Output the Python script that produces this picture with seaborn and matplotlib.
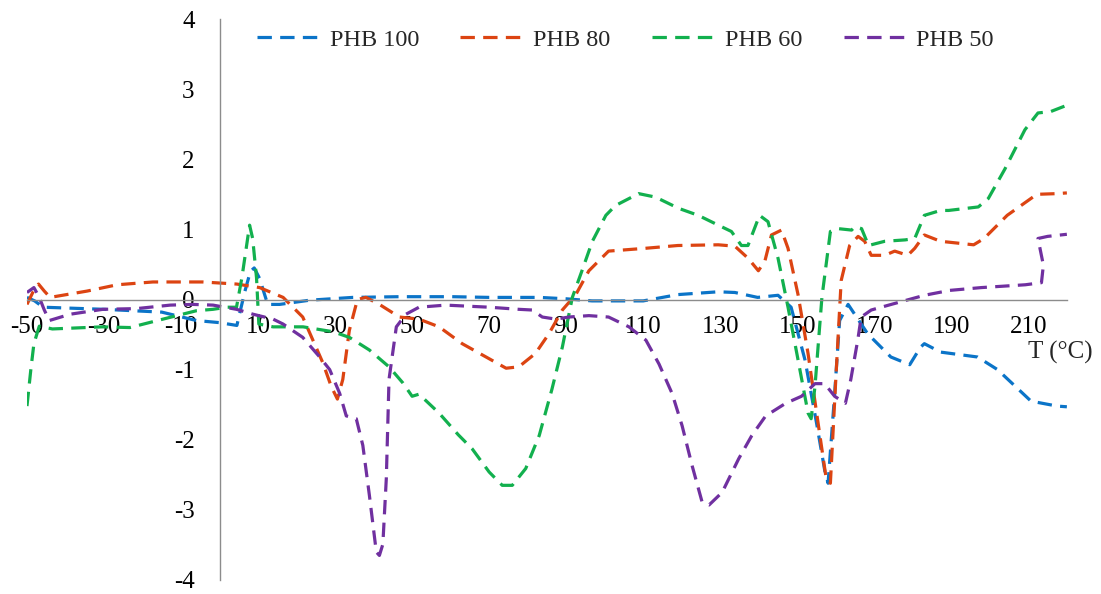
import matplotlib
matplotlib.use("Agg")
import matplotlib.pyplot as plt
import seaborn as sns

# ---------------------------------
# Data
# ---------------------------------
blue_t = [-50, -48, -45.8, -30, -15, -6, 0, 4.5, 6.5, 8, 9, 10.4, 12.5, 15.6, 23.4,
          34.6, 46.7, 60.4, 70, 83, 90, 96.7, 106, 110, 119, 129.5, 133.8, 139.7, 145, 148.4,
          152, 155, 157.2, 158, 159.5, 161, 163.2, 168.3, 174.3, 179.2, 182, 183, 187.2, 196.8, 202,
          210.7, 217.5, 220]
blue_v = [0.03, -0.02, -0.11, -0.14, -0.18, -0.3, -0.33, -0.37, 0.1, 0.4, 0.45, 0.3, -0.07, -0.07, -0.01,
          0.03, 0.04, 0.04, 0.03, 0.03, 0.01, -0.02, -0.02, -0.02, 0.07, 0.11, 0.1, 0.03, 0.06, -0.11,
          -0.86, -1.76, -2.46, -2.62, -1.5, -0.3, -0.07, -0.49, -0.82, -0.93, -0.68, -0.63, -0.75, -0.82, -1.0,
          -1.45, -1.52, -1.53]

red_t = [-50, -48.5, -47, -45.5, -44, -34.4, -26.6, -17.3, -4.4, 4.5, 10.4, 16.5, 21.6, 26.8, 29,
         30.6, 32, 33.7, 35.8, 38, 41.5, 46.7, 51.8, 57, 63, 69.2, 74.4, 77.7, 82, 85.5,
         89, 92.5, 95.9, 101, 110.5, 119, 129.5, 133.8, 137.2, 139.9, 141.6, 143.3, 145.9, 147.6, 150.2,
         152.8, 155.4, 157.5, 158.6, 160, 161.4, 163.6, 165.8, 167.5, 169.2, 172.7, 175.3, 178.7, 180.5, 183,
         187.2, 195.8, 198.5, 204.5, 212.2, 217.5, 220]
red_v = [-0.07, 0.1, 0.22, 0.12, 0.03, 0.12, 0.21, 0.25, 0.25, 0.22, 0.17, 0.03, -0.25, -0.9, -1.24,
         -1.42, -1.14, -0.44, 0, 0.03, -0.07, -0.25, -0.28, -0.39, -0.63, -0.82, -0.98, -0.96, -0.77, -0.49,
         -0.15, 0.07, 0.41, 0.69, 0.73, 0.77, 0.78, 0.76, 0.59, 0.41, 0.55, 0.92, 0.99, 0.73, 0.07,
         -0.77, -1.76, -2.55, -2.62, -1.14, 0.27, 0.77, 0.9, 0.83, 0.63, 0.63, 0.69, 0.63, 0.73, 0.92,
         0.83, 0.78, 0.87, 1.2, 1.5, 1.51, 1.52]

green_t = [-50, -49, -48.2, -46.8, -43.4, -30.5, -23.3, -14.7, -6, -1.7, 1.9, 4.4, 5.8, 7.8, 8.6,
           9.6, 10.2, 13.9, 21.7, 29.5, 33.7, 38.9, 44, 47.6, 50, 51.8, 57, 62, 65.6, 70,
           73.4, 76, 79.5, 83, 86.3, 89, 91.6, 94.1, 96.8, 100.3, 102.8, 108.8, 113.2, 119.2, 124.3,
           129.5, 132.9, 135.5, 137.2, 140.2, 142.4, 145, 147.6, 150.2, 152.8, 153.6, 154.6, 156.4, 158.6, 160.7,
           164.1, 165, 166.7, 168.5, 172.7, 178, 180.5, 183, 187.2, 189.3, 197, 199.6, 203.9, 209.1, 212.5,
           215.8, 220]
green_v = [-1.52, -1.0, -0.63, -0.38, -0.42, -0.39, -0.4, -0.28, -0.16, -0.14, -0.11, -0.11, 0.31, 1.06, 0.87,
           0.31, -0.35, -0.39, -0.39, -0.46, -0.54, -0.72, -0.96, -1.19, -1.38, -1.35, -1.62, -1.93, -2.13, -2.46,
           -2.65, -2.65, -2.41, -1.94, -1.28, -0.68, 0.03, 0.41, 0.83, 1.2, 1.34, 1.51, 1.46, 1.3, 1.2,
           1.06, 0.97, 0.77, 0.77, 1.2, 1.11, 0.59, -0.11, -0.86, -1.62, -1.7, -1.24, 0.03, 0.97, 1.01,
           0.99, 1.04, 1.01, 0.77, 0.83, 0.85, 0.87, 1.2, 1.27, 1.27, 1.32, 1.44, 1.86, 2.42, 2.66,
           2.68, 2.77]

purple_t = [-50, -48.2, -46.8, -45.5, -44.2, -38.8, -30.3, -21.6, -12.8, -6.9, -1.7, 4.4, 8.7, 13.9, 16.5,
            21.6, 26, 28.6, 31.2, 32.9, 35.5, 37.2, 38.9, 40.7, 41.5, 42.4, 43.3, 44, 45.9, 48.4,
            51.8, 58.7, 70, 77.7, 81.2, 83.8, 87.3, 90.7, 95.9, 101, 106.3, 110.7, 114.1, 117.5, 120.1,
            122.7, 125.3, 127.1, 130.5, 134.8, 138.2, 141.8, 147, 151.1, 154.6, 157.1, 159.7, 162.5, 163.9, 165.7,
            166.6, 169.2, 174.4, 183, 189.6, 197.8, 209.2, 213.4, 213.9, 212.5, 215, 220]
purple_v = [0.1, 0.17, 0.03, -0.15, -0.3, -0.21, -0.14, -0.13, -0.08, -0.07, -0.08, -0.14, -0.21, -0.28, -0.35,
            -0.54, -0.82, -1.0, -1.34, -1.66, -1.7, -2.08, -2.79, -3.6, -3.65, -3.49, -2.55, -1.14, -0.39, -0.21,
            -0.11, -0.08, -0.11, -0.14, -0.15, -0.25, -0.28, -0.25, -0.23, -0.25, -0.39, -0.58, -0.92, -1.34, -1.8,
            -2.37, -2.89, -2.93, -2.75, -2.27, -1.94, -1.66, -1.48, -1.38, -1.2, -1.2, -1.38, -1.48, -1.14, -0.58,
            -0.25, -0.15, -0.07, 0.06, 0.13, 0.17, 0.21, 0.24, 0.49, 0.87, 0.9, 0.93]

series = [
    ("PHB 100", blue_t, blue_v, "#0B74C8"),
    ("PHB 80", red_t, red_v, "#DC4412"),
    ("PHB 60", green_t, green_v, "#12B04E"),
    ("PHB 50", purple_t, purple_v, "#7030A0"),
]

x_ticks = list(range(-50, 211, 20))
y_ticks = list(range(-4, 5))

# ---------------------------------
# Plot
# ---------------------------------
sns.set_style("white")
plt.rcParams["font.family"] = ["Liberation Serif", "DejaVu Serif"]

fig = plt.figure(figsize=(11.01, 5.94), dpi=100)
ax = fig.add_axes([0.0245, 1 - 580 / 594, 0.9445, (580 - 19) / 594])

for name, t, v, col in series:
    sns.lineplot(x=t, y=v, ax=ax, color=col, sort=False, estimator=None,
                 linewidth=2.3, linestyle=(0, (4.5, 2.6)), label=name)

# spines through the origin (this resets tick props, so ticks come after)
for side in ["top", "right"]:
    ax.spines[side].set_visible(False)
ax.spines["left"].set_position(("data", 0))
ax.spines["bottom"].set_position(("data", 0))
for side in ["left", "bottom"]:
    ax.spines[side].set_color("#8c8c8c")
    ax.spines[side].set_linewidth(1.0)

ax.set_xlim(-50, 220)
ax.set_ylim(-4, 4)
ax.set_xticks(x_ticks)
ax.set_yticks(y_ticks)
ax.set_xticklabels([str(x) for x in x_ticks])
ax.set_yticklabels([str(y) for y in y_ticks])

ax.tick_params(axis="x", direction="out", length=6, width=1, color="#8c8c8c",
               pad=6, labelsize=18, labelcolor="black")
ax.tick_params(axis="y", direction="out", length=6, width=1, color="#8c8c8c",
               pad=12, labelsize=18, labelcolor="black")
ax.set_xlabel("")
ax.set_ylabel("")

fig.text(1093 / 1101, 1 - 352 / 594, "T (°C)", ha="right", va="center", fontsize=18)

ax.legend(loc="center", bbox_to_anchor=(0.568, 0.933), bbox_transform=fig.transFigure,
          ncol=4, frameon=False, fontsize=17.5, handlelength=2.7, handletextpad=0.3,
          columnspacing=1.7)

fig.savefig("out.png", dpi=100)
plt.close(fig)
